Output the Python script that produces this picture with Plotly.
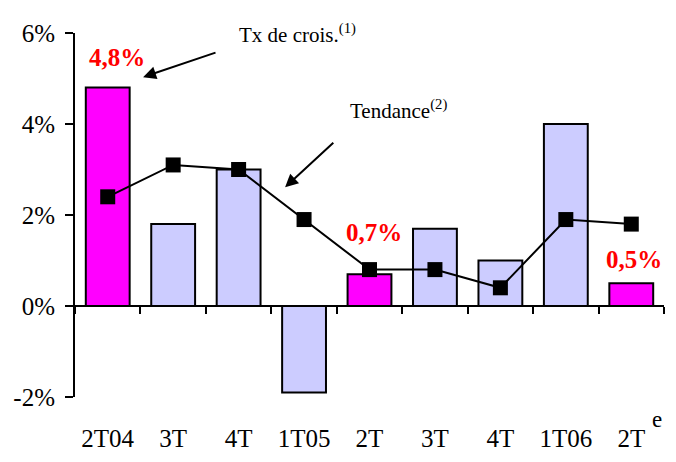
import plotly.graph_objects as go

# quarters and values (%)
quarters = ["2T04", "3T", "4T", "1T05", "2T", "3T", "4T", "1T06", "2T"]
growth = [4.8, 1.8, 3.0, -1.9, 0.7, 1.7, 1.0, 4.0, 0.5]
trend = [2.4, 3.1, 3.0, 1.9, 0.8, 0.8, 0.4, 1.9, 1.8]
highlight = [True, False, False, False, True, False, False, False, True]
y_ticks = [-2, 0, 2, 4, 6]

MAGENTA = "#FF00FF"
LAVENDER = "#CCCCFF"
SERIF = "Liberation Serif"

xs = list(range(len(quarters)))
bar_colors = [MAGENTA if h else LAVENDER for h in highlight]

fig = go.Figure()

fig.add_trace(go.Bar(
    x=xs,
    y=growth,
    marker=dict(color=bar_colors, line=dict(color="black", width=2)),
    width=0.67,
    showlegend=False,
    hoverinfo="skip",
))

# trend line drawn on the overlay axis so that it renders
fig.add_trace(go.Scatter(
    x=xs,
    y=trend,
    mode="lines+markers",
    line=dict(color="black", width=2),
    marker=dict(symbol="square", size=15, color="black"),
    xaxis="x2",
    showlegend=False,
    hoverinfo="skip",
))

ymin, ymax = -2, 6
zero_pos = (0 - ymin) / (ymax - ymin)

# page body keeps its default 8px margin, so the figure is 8px smaller
fig.update_layout(
    width=668,
    height=454,
    margin=dict(l=67, r=12, t=25, b=65),
    plot_bgcolor="white",
    paper_bgcolor="white",
    font=dict(family=SERIF, size=24, color="black"),
    xaxis=dict(
        range=[-0.5, len(quarters) - 0.5],
        tickvals=xs,
        ticktext=quarters,
        showline=False,
        showgrid=False,
        zeroline=False,
        ticks="",
        ticklabelstandoff=24,
        tickfont=dict(family=SERIF, size=25),
        automargin=False,
    ),
    xaxis2=dict(
        overlaying="x",
        anchor="free",
        position=zero_pos,
        side="bottom",
        range=[-0.5, len(quarters) - 0.5],
        tickvals=[i - 0.5 for i in range(len(quarters) + 1)],
        showticklabels=False,
        showline=True,
        linecolor="black",
        linewidth=2,
        ticks="outside",
        ticklen=7,
        tickwidth=2,
        tickcolor="black",
        showgrid=False,
        zeroline=False,
    ),
    yaxis=dict(
        range=[ymin, ymax],
        tickvals=y_ticks,
        ticktext=[f"{v}%" for v in y_ticks],
        showline=True,
        linecolor="black",
        linewidth=2,
        ticks="outside",
        ticklen=8,
        tickwidth=2,
        tickcolor="black",
        showgrid=False,
        zeroline=False,
        ticklabelstandoff=5,
        tickfont=dict(family=SERIF, size=25),
        automargin=False,
    ),
)

# red value labels for highlighted bars
label_pos = {0: (0.14, 5.47), 4: (4.07, 1.62), 8: (8.04, 1.03)}
for i, (lx, ly) in label_pos.items():
    fig.add_annotation(
        x=lx, y=ly, xref="x", yref="y",
        text="<b>" + f"{growth[i]:.1f}".replace(".", ",") + "%</b>",
        showarrow=False,
        font=dict(family=SERIF, size=25, color="red"),
    )

# callouts (paper coords where outside the axis range)
fig.add_annotation(
    x=0.3786, y=1.0, xref="paper", yref="paper",
    text="Tx de crois.<sup>(1)</sup>",
    xanchor="center", yanchor="middle",
    showarrow=False,
    font=dict(family=SERIF, size=21),
)
fig.add_annotation(
    x=0.54, y=5.03, ax=1.67, ay=5.58,
    xref="x", yref="y", axref="x", ayref="y",
    text="", showarrow=True,
    arrowhead=2, arrowsize=1.3, arrowwidth=2, arrowcolor="black",
)
fig.add_annotation(
    x=4.44, y=4.32, xref="x", yref="y",
    text="Tendance<sup>(2)</sup>",
    showarrow=False,
    font=dict(family=SERIF, size=21),
)
fig.add_annotation(
    x=2.71, y=2.61, ax=3.47, ay=3.62,
    xref="x", yref="y", axref="x", ayref="y",
    text="", showarrow=True,
    arrowhead=2, arrowsize=1.3, arrowwidth=2, arrowcolor="black",
)
fig.add_annotation(
    x=0.988, y=-0.063, xref="paper", yref="paper",
    text="e", showarrow=False,
    xanchor="center", yanchor="middle",
    font=dict(family=SERIF, size=23),
)

fig.write_html("out.html")
